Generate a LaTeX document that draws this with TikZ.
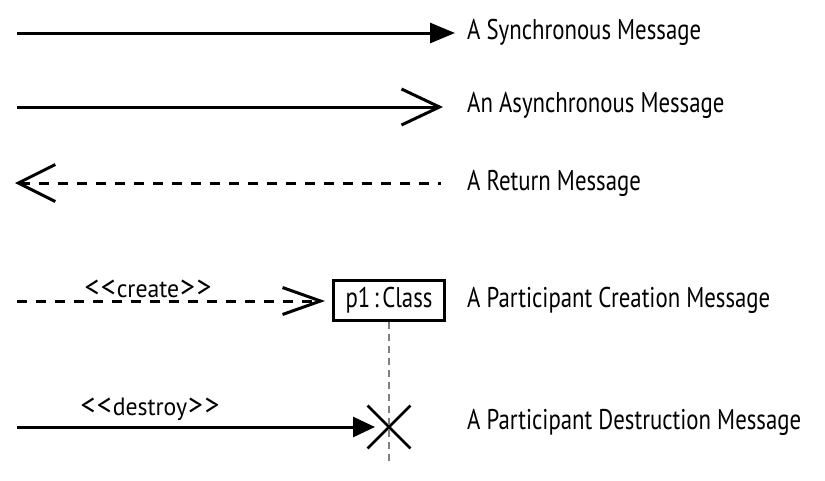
\documentclass[tikz,border=0pt]{standalone}
\usepackage{fontspec}
\setmainfont{PT Sans}[FakeStretch=0.80]
\newfontfamily\stereofont{PT Sans}[FakeStretch=0.95]
\newcommand\stlt{{\fontsize{31}{31}\selectfont<}}
\newcommand\stgt{{\fontsize{31}{31}\selectfont>}}
\usetikzlibrary{arrows.meta,shapes.misc}
\begin{document}
\begin{tikzpicture}[x=1pt,y=-1pt,
  msgline/.style={line width=3pt},
  dashline/.style={line width=3pt, dash pattern=on 10pt off 9pt},
  lbl/.style={anchor=west, inner sep=0pt, font=\fontsize{28.5}{32}\selectfont},
  stereo/.style={inner sep=0pt, font=\stereofont\fontsize{25}{29}\selectfont},
  syncarrow/.style={-{Triangle[length=25pt,width=20pt]}},
  asyncarrow/.style={-{Straight Barb[length=38pt,width=36pt]}}
]
\useasboundingbox (0,0) rectangle (825,480);

% row 1: synchronous
\coordinate (s1) at (17,33);
\coordinate (e1) at (455,33);
\draw[msgline, syncarrow] (s1) -- (e1);
\node[lbl] (t1) at (467,32) {A Synchronous Message};

% row 2: asynchronous
\coordinate (s2) at (17,107);
\coordinate (e2) at (443,107);
\draw[msgline, asyncarrow] (s2) -- (e2);
\node[lbl] (t2) at (467,105) {An Asynchronous Message};

% row 3: return
\coordinate (s3) at (441,183);
\coordinate (e3) at (15,183);
\draw[dashline, {Straight Barb[length=37pt,width=37pt]}-] (e3) -- (s3);
\node[lbl] (t3) at (467,183) {A Return Message};

% row 4: creation
\node[draw, line width=3pt, minimum width=111pt, minimum height=40pt, inner sep=0pt,
      font=\fontsize{28.5}{32}\selectfont] (p1) at (389,300) {p1\kern3.5pt:\kern3.5pt Class};
\coordinate (s4) at (17,301);
\coordinate (e4) at (325,301);
\draw[dashline, -{Straight Barb[length=38pt,width=27pt]}] (s4) -- (e4);
\node[stereo] (c4) at (148,289) {\stlt\kern1.5pt\stlt\kern1pt create\kern1pt\stgt\kern1.5pt\stgt};
\node[lbl] (t4) at (467,300) {A Participant Creation Message};

% lifeline and destruction
\node[cross out, draw, line width=2.8pt, minimum size=40pt, inner sep=0pt] (x) at (389,427) {};
\coordinate (lend) at (389,463);
\draw[gray, line width=1.8pt, dash pattern=on 7pt off 5pt] (p1.south) -- (lend);
\coordinate (s5) at (17,427);
\coordinate (e5) at (375,427);
\draw[msgline, -{Triangle[length=22pt,width=20pt]}] (s5) -- (e5);
\node[stereo] (c5) at (150,409) {\stlt\kern1.5pt\stlt\kern1pt destroy\kern1pt\stgt\kern1.5pt\stgt};
\node[lbl] (t5) at (467,422) {A Participant Destruction Message};
\end{tikzpicture}
\end{document}
